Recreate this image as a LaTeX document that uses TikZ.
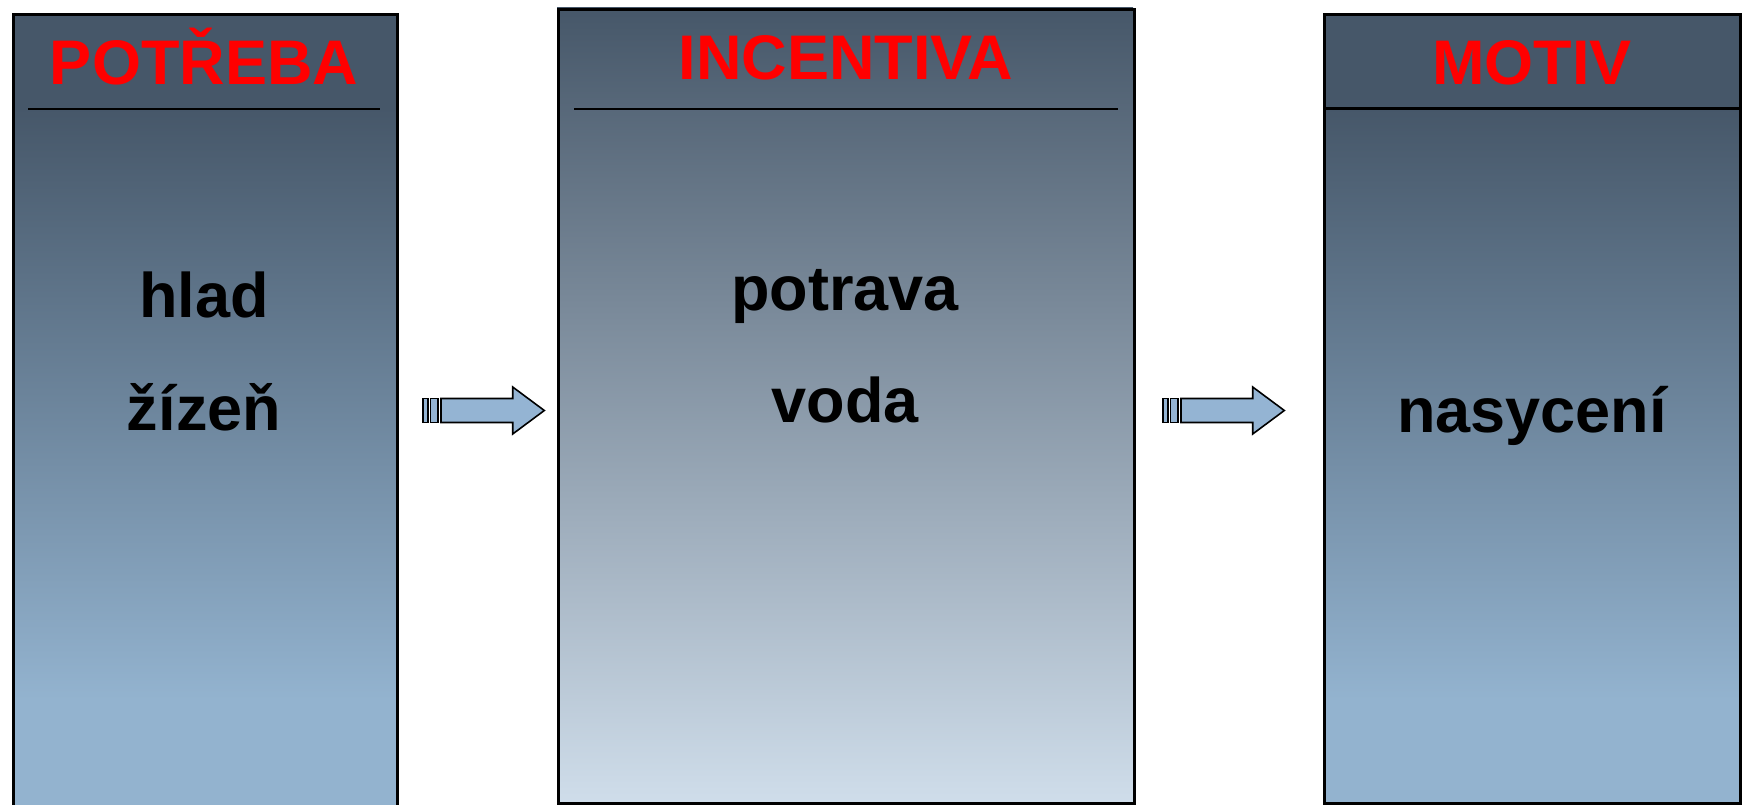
\documentclass[tikz,border=0pt]{standalone}
\usepackage{fontspec}
\setmainfont{Liberation Sans}
\definecolor{boxdark}{HTML}{465769}
\definecolor{boxlight}{HTML}{93B3CF}
\definecolor{boxpale}{HTML}{CFDDEA}
\definecolor{arrowfill}{HTML}{94B4D3}
\definecolor{titlered}{HTML}{FF0000}
\begin{document}
\begin{tikzpicture}[x=1pt,y=-1pt,
  boxframe/.style={draw=black,line width=3pt,inner sep=0pt,anchor=north west},
  titletext/.style={anchor=base,text=titlered,font=\bfseries\fontsize{63}{75}\selectfont,inner sep=0pt},
  bodytext/.style={anchor=base,text=black,font=\bfseries\fontsize{63}{75}\selectfont,inner sep=0pt},
  titlerule/.style={line width=2.5pt},
  arrowpart/.style={draw=black,line width=1.6pt,fill=arrowfill,line join=miter},
  striparrow/.pic={
    \path[arrowpart] (0.5,-12) rectangle (5.3,12);
    \path[arrowpart] (7.6,-12) rectangle (15.2,12);
    \path[arrowpart] (18.3,-12) -- (90,-12) -- (90,-23.5) -- (121.6,0) -- (90,23.5) -- (90,12) -- (18.3,12) -- cycle;
  }
]
\useasboundingbox (0,0) rectangle (1747,805);
\fill[white] (0,0) rectangle (1747,805);

% Box 1: POTREBA
\fill[boxdark] (12,13) rectangle (396,109);
\shade[top color=boxdark,bottom color=boxlight] (12,108) rectangle (396,700);
\fill[boxlight] (12,699) rectangle (396,816);
\node[boxframe,minimum width=384pt,minimum height=803pt] (potreba) at (12,13) {};
\draw[titlerule] (28,109) -- (380,109);
\node[titletext] (t1) at (204,85) {POTŘEBA};
\node[bodytext] (b1a) at (204,317) {hlad};
\node[bodytext] (b1b) at (204,430) {žízeň};

% Box 2: INCENTIVA
\shade[top color=boxdark,bottom color=boxpale] (557,8) rectangle (1133,802);
\node[boxframe,minimum width=576pt,minimum height=794pt] (incentiva) at (557,8) {};
\draw[titlerule] (574,109) -- (1118,109);
\node[titletext] (t2) at (846,80) {INCENTIVA};
\node[bodytext] (b2a) at (845,310) {potrava};
\node[bodytext] (b2b) at (845,422) {voda};

% Box 3: MOTIV
\fill[boxdark] (1323,13) rectangle (1739,109);
\shade[top color=boxdark,bottom color=boxlight] (1323,108) rectangle (1739,700);
\fill[boxlight] (1323,699) rectangle (1739,802);
\node[boxframe,minimum width=416pt,minimum height=789pt] (motiv) at (1323,13) {};
\draw[line width=3pt] (motiv.west |- 0,109) -- (motiv.east |- 0,109);
\node[titletext] (t3) at (1532,85) {MOTIV};
\node[bodytext] (b3) at (1532,432) {nasycení};

% Arrows
\coordinate (arr1) at (422.7,410.5);
\coordinate (arr2) at (1162.7,410.5);
\pic at (arr1) {striparrow};
\pic at (arr2) {striparrow};
\end{tikzpicture}
\end{document}
